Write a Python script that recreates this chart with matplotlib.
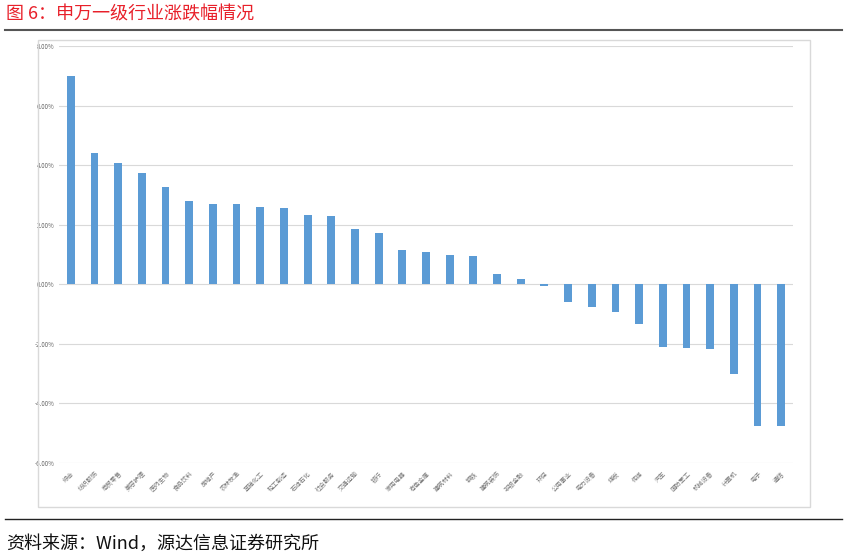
import matplotlib.pyplot as plt
from matplotlib.patches import Rectangle
from matplotlib.lines import Line2D
import numpy as np

plt.rcParams['font.family'] = ['Noto Sans CJK SC', 'DejaVu Sans']

# industries (SW level-1) and their change, %
industries = ['综合', '纺织服饰', '商贸零售', '美容护理', '医药生物', '食品饮料', '房地产',
              '农林牧渔', '基础化工', '轻工制造', '石油石化', '社会服务', '交通运输', '银行',
              '家用电器', '有色金属', '建筑材料', '钢铁', '建筑装饰', '非银金融', '环保',
              '公用事业', '电力设备', '煤炭', '传媒', '汽车', '国防军工', '机械设备',
              '计算机', '电子', '通信']
changes = [7.00, 4.42, 4.08, 3.75, 3.28, 2.81, 2.68, 2.68, 2.61, 2.55, 2.31, 2.28,
           1.84, 1.71, 1.14, 1.07, 0.97, 0.94, 0.34, 0.17, -0.07, -0.60, -0.77,
           -0.94, -1.33, -2.11, -2.14, -2.18, -3.02, -4.76, -4.76]
yticks = [-6, -4, -2, 0, 2, 4, 6, 8]

W, H = 847, 559
fig = plt.figure(figsize=(W / 100, H / 100), dpi=100)

# title and rules
fig.text(6 / W, 1 - 14 / H, '图 6：申万一级行业涨跌幅情况', color='#e8202a',
         fontsize=13, va='center', ha='left')
fig.add_artist(Line2D([5 / W, 842 / W], [1 - 30 / H, 1 - 30 / H], color='#555555', lw=1.5))
fig.add_artist(Line2D([5 / W, 842 / W], [1 - 519 / H, 1 - 519 / H], color='#222222', lw=1.0))
fig.text(6 / W, 1 - 544 / H, '资料来源：Wind，源达信息证券研究所', color='#111111',
         fontsize=13, va='center', ha='left')

# chart frame
fig.add_artist(Rectangle((38 / W, 1 - 507 / H), (810 - 38) / W, (507 - 40) / H,
                         fill=False, ec='#d9d9d9', lw=1.0))

ax = fig.add_axes([59 / W, 1 - 463 / H, (793 - 59) / W, (463 - 46) / H])
x = np.arange(len(industries))
ax.bar(x, changes, width=0.33, color='#5b9bd5', zorder=3)
ax.set_xlim(-0.5, len(industries) - 0.5)
ax.set_ylim(-6, 8)
ax.set_yticks(yticks)
ax.set_yticklabels([f'{v:.2f}%' for v in yticks], fontsize=4.5, color='#666666')
ax.yaxis.grid(True, color='#d9d9d9', lw=0.8, zorder=0)
ax.tick_params(axis='both', length=0, pad=3)
ax.set_xticks(x)
ax.set_xticklabels(industries, rotation=45, ha='right', rotation_mode='anchor',
                   fontsize=4.5, color='#777777')
ax.tick_params(axis='x', pad=5)
for s in ax.spines.values():
    s.set_visible(False)

fig.savefig('out.png', dpi=100)
